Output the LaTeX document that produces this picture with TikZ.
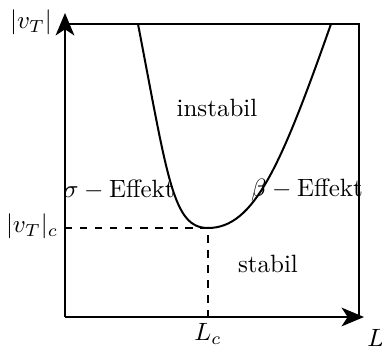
\documentclass[tikz,border=0pt]{standalone}
\usetikzlibrary{arrows.meta}
\begin{document}
\begin{tikzpicture}[x=0.4pt,y=-0.4pt,
  axis/.style={line width=0.8pt,-{Stealth[length=9pt,width=7.5pt,inset=2.5pt]}},
  frame/.style={line width=0.6pt},
  curve/.style={line width=0.8pt},
  guide/.style={line width=0.6pt,dashed},
  lab/.style={inner sep=0pt}]
\useasboundingbox (0,0) rectangle (382,347);
\coordinate (O) at (65,317);
\coordinate (ytip) at (65,13);
\coordinate (xtip) at (364,317);
\coordinate (tl) at (65,24);
\coordinate (tr) at (359,24);
\coordinate (br) at (359,317);
\coordinate (cL) at (138,24);
\coordinate (cM) at (208,228);
\coordinate (cR) at (331,24);
\coordinate (yc) at (65,228);
\coordinate (xc) at (208,317);
\draw[frame] (tl) -- (tr) -- (br);
\draw[axis] (O) -- (ytip);
\draw[axis] (O) -- (xtip);
\draw[curve] (cL) .. controls (168,180) and (173,228) .. (cM)
  .. controls (254,228) and (281,166) .. (cR);
\draw[guide] (yc) -- (cM) -- (xc);
\node[lab] (ylab) at (31,22) {$|v_T|$};
\node[lab] (xlab) at (376,338) {$L$};
\node[lab] (lc) at (208,334) {$L_c$};
\node[lab] (vc) at (32,226) {$|v_T|_c$};
\node[lab] (sig) at (119,190) {$\sigma-\mathrm{Effekt}$};
\node[lab] (bet) at (307,190) {$\beta-\mathrm{Effekt}$};
\node[lab] (inst) at (217,108) {instabil};
\node[lab] (stab) at (268,264) {stabil};
\end{tikzpicture}
\end{document}
